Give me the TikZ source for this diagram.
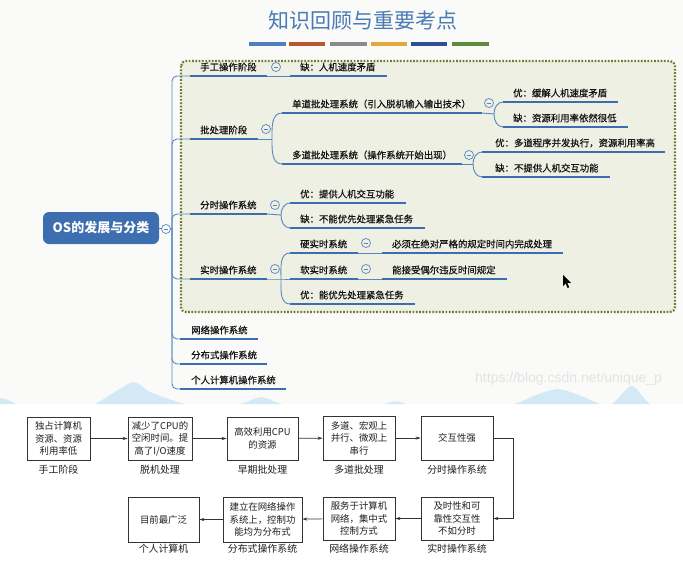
\documentclass[tikz,border=0pt]{standalone}
\usepackage{fontspec}
\setmainfont{Noto Sans CJK SC}
\newfontfamily\mmfont{Noto Sans CJK SC}[FakeBold=0.6]
\newfontfamily\wmfont{Liberation Sans}
\usetikzlibrary{arrows.meta,calc}
\definecolor{topbg}{HTML}{FAFAF8}
\definecolor{mtn}{HTML}{D3EAF6}
\definecolor{titleblue}{HTML}{4A7AB5}
\definecolor{barA}{HTML}{4F7FBF}
\definecolor{barB}{HTML}{B9582F}
\definecolor{barC}{HTML}{8A8A8A}
\definecolor{barD}{HTML}{E3A93A}
\definecolor{barE}{HTML}{2C4F95}
\definecolor{barF}{HTML}{5D8C3A}
\definecolor{boxfill}{HTML}{EDF0E3}
\definecolor{boxdot}{HTML}{6B7B2F}
\definecolor{mmline}{HTML}{5A86C0}
\definecolor{ulblue}{HTML}{3C6DB0}
\definecolor{osblue}{HTML}{3D6EB0}
\tikzset{
  thinl/.style={draw=mmline, line width=0.9pt},
  ulline/.style={draw=ulblue, line width=2.4pt},
  mmtext/.style={font=\mmfont\fontsize{9.4}{11}\selectfont, inner sep=0pt, text=black!92},
  mmcirc/.style={circle, draw=mmline, fill=boxfill, line width=0.7pt, minimum size=9pt, inner sep=0pt,
    path picture={\draw[mmline, line width=0.7pt] ([xshift=-2.3pt]path picture bounding box.center) -- ([xshift=2.3pt]path picture bounding box.center);}},
  fbox/.style={draw=black!80, line width=0.8pt, fill=white, inner sep=1pt, align=center,
    font=\fontsize{9.4}{12.5}\selectfont, text=black!88},
  flab/.style={font=\fontsize{9.9}{12}\selectfont, text=black!88, inner sep=0pt},
  arr/.style={draw=black!80, line width=0.7pt, -{Stealth[length=5pt,width=3.2pt]}},
  colbar/.style={line width=4pt}
}
\newcommand{\mmitem}[6]{%
  \coordinate (#1-a) at (#2,#4);
  \coordinate (#1-b) at (#3,#4);
  \draw[ulline] (#1-a) -- (#1-b);
  \node[mmtext, anchor=west] (#1) at (#5,#4-9) {#6};
}
\begin{document}
\begin{tikzpicture}[x=1pt,y=-1pt]
\useasboundingbox (0,0) rectangle (683,560);
% backgrounds
\fill[topbg] (0,0) rectangle (683,404);
\fill[white] (0,404) rectangle (683,560);
% mountains
\fill[mtn] (95,404) .. controls (110,396) and (120,388) .. (130,383) .. controls (138,380) and (142,388) .. (150,392) .. controls (160,396) and (170,400) .. (185,404) -- cycle;
\fill[mtn] (240,404) .. controls (250,401) and (255,398) .. (261,397) .. controls (268,398) and (272,401) .. (282,404) -- cycle;
\fill[mtn] (385,404) .. controls (392,401) and (398,400) .. (405,404) -- cycle;
\fill[mtn] (515,404) .. controls (530,398) and (540,392) .. (557,389) .. controls (570,390) and (585,398) .. (600,404) -- cycle;
\fill[mtn] (612,404) .. controls (620,398) and (626,387) .. (632,386) .. controls (638,388) and (642,398) .. (650,404) -- cycle;
\fill[mtn] (0,398) .. controls (6,398) and (10,401) .. (16,404) -- (0,404) -- cycle;
% watermark
\node[font=\wmfont\fontsize{14}{16}\selectfont, text=black!11, anchor=west, inner sep=0pt] (wm) at (475,379) {https://blog.csdn.net/unique\_p};
% title
\node[font=\fontsize{21}{24}\selectfont, text=titleblue, inner sep=0pt] (title) at (363,21) {知识回顾与重要考点};
\draw[colbar, barA] (249,44) -- (286,44);
\draw[colbar, barB] (289,44) -- (325,44);
\draw[colbar, barC] (330,44) -- (367,44);
\draw[colbar, barD] (371,44) -- (407,44);
\draw[colbar, barE] (411,44) -- (447,44);
\draw[colbar, barF] (452,44) -- (489,44);
% dotted box
\draw[fill=boxfill, draw=boxdot, line width=2.2pt, dash pattern=on 1.7pt off 1.6pt, rounded corners=5pt] (181,61) rectangle (675,312);
% main node
\node[fill=osblue, rounded corners=6pt, minimum width=116pt, minimum height=32pt, inner sep=0pt,
  text=white, font=\bfseries\fontsize{13}{15}\selectfont] (os) at (101,228) {OS的发展与分类};
% level 1
\mmitem{sg}{190}{267}{76}{200}{手工操作阶段}
\mmitem{pc}{190}{258}{139}{200}{批处理阶段}
\mmitem{fs}{190}{267}{214}{200}{分时操作系统}
\mmitem{ss}{190}{267}{279}{200}{实时操作系统}
\mmitem{wl}{180}{258}{339}{191}{网络操作系统}
\mmitem{fb}{180}{267}{364}{191}{分布式操作系统}
\mmitem{gr}{180}{286}{389}{191}{个人计算机操作系统}
% level 2+
\mmitem{sgq}{290}{387}{76}{300}{缺：人机速度矛盾}
\mmitem{dd}{282}{482}{113}{292}{单道批处理系统（引入脱机输入输出技术）}
\mmitem{ddy}{503}{618}{102}{513}{优：缓解人机速度矛盾}
\mmitem{ddq}{503}{628}{127}{513}{缺：资源利用率依然很低}
\mmitem{md}{282}{462}{164}{292}{多道批处理系统（操作系统开始出现）}
\mmitem{mdy}{482}{665}{152}{495}{优：多道程序并发执行，资源利用率高}
\mmitem{mdq}{482}{610}{177}{495}{缺：不提供人机交互功能}
\mmitem{fsy}{290}{406}{203}{300}{优：提供人机交互功能}
\mmitem{fsq}{290}{425}{228}{300}{缺：不能优先处理紧急任务}
\mmitem{ying}{290}{358}{253}{300}{硬实时系统}
\mmitem{yingd}{382}{563}{253}{392}{必须在绝对严格的规定时间内完成处理}
\mmitem{ruan}{290}{358}{279}{300}{软实时系统}
\mmitem{ruand}{382}{507}{279}{392}{能接受偶尔违反时间规定}
\mmitem{ssy}{290}{415}{304}{300}{优：能优先处理紧急任务}
% connectors main
\coordinate (mj) at (172,228);
\draw[thinl] (os.east) -- (mj);
\foreach \t in {sg,pc,fs,ss,wl,fb,gr}{
  \draw[thinl, rounded corners=5pt] (mj) |- (\t-a);
}
% connectors sub
\draw[thinl] (sg-b) -- (sgq-a);
\coordinate (pcj) at (272,139);
\draw[thinl] (pc-b) -- (pcj);
\draw[thinl] (dd-a) to[out=180,in=90] (pcj) to[out=-90,in=180] (md-a);
\coordinate (ddj) at (494,114);
\draw[thinl] (dd-b) -- (ddj);
\draw[thinl] (ddy-a) to[out=180,in=90] (ddj) to[out=-90,in=180] (ddq-a);
\coordinate (mdj) at (473,164);
\draw[thinl] (md-b) -- (mdj);
\draw[thinl] (mdy-a) to[out=180,in=90] (mdj) to[out=-90,in=180] (mdq-a);
\coordinate (fsj) at (281,215);
\draw[thinl] (fs-b) -- (fsj);
\draw[thinl] (fsy-a) to[out=180,in=90] (fsj) to[out=-90,in=180] (fsq-a);
\coordinate (ssj) at (281,279);
\draw[thinl] (ss-b) -- (ssj) -- (ruan-a);
\draw[thinl] (ying-a) to[out=180,in=90] (ssj) to[out=-90,in=180] (ssy-a);
\draw[thinl] (ying-b) -- (yingd-a);
\draw[thinl] (ruan-b) -- (ruand-a);
% collapse markers
\node[mmcirc, fill=topbg] (c0) at (166,229) {};
\node[mmcirc] (c1) at (276,67) {};
\node[mmcirc] (c2) at (266,129) {};
\node[mmcirc] (c3) at (489,103) {};
\node[mmcirc] (c4) at (469,155) {};
\node[mmcirc] (c5) at (275,205) {};
\node[mmcirc] (c6) at (275,269) {};
\node[mmcirc] (c7) at (366,243) {};
\node[mmcirc] (c8) at (366,269) {};
% cursor
\fill[black] (563,275) -- (563,286) -- (565.6,283.4) -- (567.6,288) -- (569.2,287.3) -- (567.2,282.8) -- (570.8,282.8) -- cycle;
% bottom flow chart
\node[fbox, minimum width=63pt, minimum height=43pt] (b1) at (58.5,438.5) {独占计算机\\资源、资源\\利用率低};
\node[fbox, minimum width=64pt, minimum height=43pt] (b2) at (160,438.5) {减少了CPU的\\空闲时间。提\\高了I/O速度};
\node[fbox, minimum width=71pt, minimum height=43pt] (b3) at (262.5,438.5) {高效利用CPU\\的资源};
\node[fbox, minimum width=72pt, minimum height=44pt] (b4) at (359,438) {多道、宏观上\\并行、微观上\\串行};
\node[fbox, minimum width=72pt, minimum height=44pt] (b5) at (457,438) {交互性强};
\node[fbox, minimum width=72pt, minimum height=43pt] (b6) at (457,518.5) {及时性和可\\靠性交互性\\不如分时};
\node[fbox, minimum width=72pt, minimum height=43pt] (b7) at (359,518.5) {服务于计算机\\网络，集中式\\控制方式};
\node[fbox, minimum width=79pt, minimum height=45pt] (b8) at (262.5,519.5) {建立在网络操作\\系统上，控制功\\能均为分布式};
\node[fbox, minimum width=71pt, minimum height=45pt] (b9) at (163.5,519.5) {目前最广泛};
\node[flab] (l1) at (58.5,470) {手工阶段};
\node[flab] (l2) at (160,470) {脱机处理};
\node[flab] (l3) at (262.5,470) {早期批处理};
\node[flab] (l4) at (359,470) {多道批处理};
\node[flab] (l5) at (457,470) {分时操作系统};
\node[flab] (l6) at (457,549) {实时操作系统};
\node[flab] (l7) at (359,549) {网络操作系统};
\node[flab] (l8) at (262.5,549) {分布式操作系统};
\node[flab] (l9) at (163.5,549) {个人计算机};
\draw[arr] (b1) -- (b2);
\draw[arr] (b2) -- (b3);
\draw[arr] (b3) -- (b4);
\draw[arr] (b4) -- (b5);
\coordinate (turn) at (513,438);
\draw[arr] (b5.east) -- (turn) |- (b6.east);
\draw[arr] (b6) -- (b7);
\draw[arr] (b7) -- (b8);
\draw[arr] (b8) -- (b9);
\end{tikzpicture}
\end{document}
